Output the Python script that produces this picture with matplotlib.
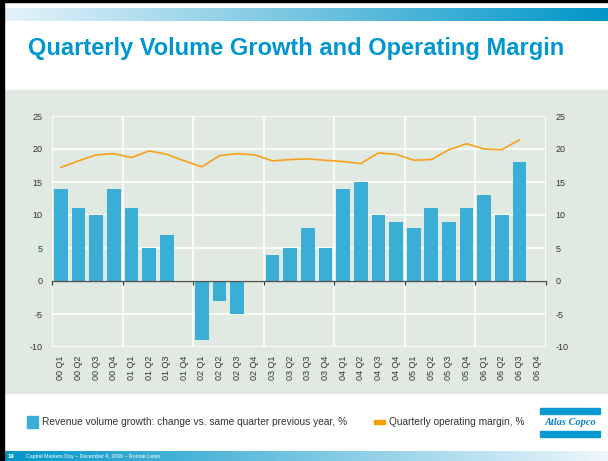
import matplotlib.pyplot as plt
import numpy as np
from matplotlib.patches import Rectangle
from matplotlib.colors import LinearSegmentedColormap

plt.rcParams["axes.unicode_minus"] = False

quarters = [f"{y:02d} Q{q}" for y in range(0, 7) for q in range(1, 5)]
growth = [14, 11, 10, 14, 11, 5, 7, 0, -9, -3, -5, 0, 4, 5, 8, 5,
          14, 15, 10, 9, 8, 11, 9, 11, 13, 10, 18, np.nan]
margin = [17.2, 18.2, 19.1, 19.3, 18.7, 19.7, 19.2, 18.2, 17.3, 19.0, 19.3, 19.1,
          18.2, 18.4, 18.5, 18.3, 18.1, 17.8, 19.4, 19.2, 18.3, 18.4, 19.9, 20.8,
          20.0, 19.9, 21.4, np.nan]

BLUE = "#3aaed4"
ORANGE = "#f7a11a"
PANEL = "#e1eae2"
TEXT = "#333333"

W, H = 608, 461
fig = plt.figure(figsize=(W / 100, H / 100), dpi=100)
fig.patch.set_facecolor("white")

def fx(px):
    return px / W

def fy(px):
    return 1 - px / H

# background panel
fig.patches.append(Rectangle((fx(3), fy(393)), 1 - fx(3), fy(90) - fy(393),
                             transform=fig.transFigure, color=PANEL, zorder=-5))

# header and footer gradients
top_cmap = LinearSegmentedColormap.from_list("top", ["#e6f3f9", "#0096c8"])
bot_cmap = LinearSegmentedColormap.from_list("bot", ["#0096c8", "#eef7fb"])
grad = np.linspace(0, 1, 256)[None, :]
gax = fig.add_axes([fx(3), fy(21), 1 - fx(3), fy(8) - fy(21)])
gax.imshow(grad, aspect="auto", cmap=top_cmap)
gax.axis("off")
fax = fig.add_axes([fx(3), 0, 1 - fx(3), fy(451)])
fax.imshow(grad, aspect="auto", cmap=bot_cmap)
fax.axis("off")
fig.text(fx(7), fy(456), "19", color="white", fontsize=3.5, va="center",
         fontweight="bold")
fig.text(fx(26), fy(456), "Capital Markets Day \u2013 December 4, 2006 \u2013 Ronnie Leten",
         color="white", fontsize=3.8, va="center", family="Liberation Sans")

# black frame on top and left
fig.patches.append(Rectangle((0, fy(2)), 1, fy(0) - fy(2), transform=fig.transFigure,
                             color="black", zorder=5))
fig.patches.append(Rectangle((0, 0), fx(4), 1, transform=fig.transFigure,
                             color="black", zorder=5))

fig.text(fx(28), fy(48.5), "Quarterly Volume Growth and Operating Margin",
         color="#0096d0", fontsize=17, fontweight="bold", va="center",
         family="Liberation Sans")

ax = fig.add_axes([fx(52), fy(347), fx(546) - fx(52), fy(116) - fy(347)])
ax.set_facecolor("none")
x = np.arange(len(quarters))
ax.bar(x, growth, width=0.78, color=BLUE, zorder=3)
ax.plot(x, margin, color=ORANGE, lw=1.2, zorder=4)

ax.set_xlim(-0.5, len(quarters) - 0.5)
ax.set_ylim(-10, 25)
ax.set_yticks(np.arange(-10, 26, 5))
for yv in np.arange(-10, 26, 5):
    ax.axhline(yv, color="white", lw=1.2, zorder=1)
for xv in np.arange(-0.5, len(quarters), 4):
    ax.axvline(xv, color="white", lw=1.2, zorder=1)

for s in ax.spines.values():
    s.set_visible(False)

ax.tick_params(axis="y", length=0, labelsize=6.5, labelcolor=TEXT, pad=7,
               labelleft=True, labelright=True)
for lab in ax.get_yticklabels():
    lab.set_family("Liberation Sans")

# zero line with year ticks
ax.set_xticks(np.arange(-0.5, len(quarters), 4))
ax.set_xticklabels([])
ax.spines["bottom"].set_visible(True)
ax.spines["bottom"].set_position(("data", 0))
ax.spines["bottom"].set_color("#555555")
ax.spines["bottom"].set_linewidth(1.0)
ax.spines["bottom"].set_zorder(5)
ax.tick_params(axis="x", length=3, width=0.8, color="#333333", direction="out")

sec = ax.secondary_xaxis(-0.02)
sec.set_xticks(x)
sec.set_xticklabels(quarters, rotation=90, fontsize=6.5, color=TEXT, family="Liberation Sans")
sec.tick_params(length=0, pad=3)
for s in sec.spines.values():
    s.set_visible(False)

# legend row
fig.patches.append(Rectangle((fx(27), fy(428)), fx(11), fy(416) - fy(428),
                             transform=fig.transFigure, color=BLUE))
fig.text(fx(42), fy(422), "Revenue volume growth: change vs. same quarter previous year, %",
         fontsize=7.3, color=TEXT, va="center", family="Liberation Sans")
fig.patches.append(Rectangle((fx(374), fy(424)), fx(11), fy(420) - fy(424),
                             transform=fig.transFigure, color="#f7a000"))
fig.text(fx(389), fy(422), "Quarterly operating margin, %",
         fontsize=7.3, color=TEXT, va="center", family="Liberation Sans")

# logo
LOGO = "#0a9ad2"
fig.patches.append(Rectangle((fx(540), fy(414)), fx(60), fy(408) - fy(414),
                             transform=fig.transFigure, color=LOGO))
fig.patches.append(Rectangle((fx(540), fy(437)), fx(60), fy(431) - fy(437),
                             transform=fig.transFigure, color=LOGO))
fig.text(fx(570), fy(422.5), "Atlas Copco", fontsize=7.5, color="#0a7fc0",
         style="italic", fontweight="bold", ha="center", va="center",
         family="Liberation Serif")

fig.savefig("out.png", dpi=100)
